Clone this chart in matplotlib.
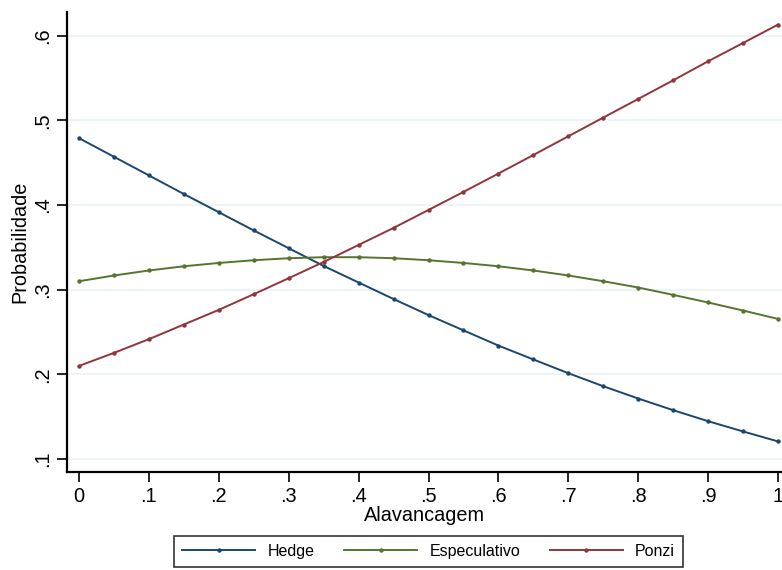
import matplotlib
matplotlib.use("Agg")
import matplotlib.pyplot as plt
import numpy as np

plt.rcParams['font.family'] = ['Liberation Sans', 'DejaVu Sans']

alavancagem = [0.00, 0.05, 0.10, 0.15, 0.20, 0.25, 0.30, 0.35, 0.40, 0.45, 0.50,
               0.55, 0.60, 0.65, 0.70, 0.75, 0.80, 0.85, 0.90, 0.95, 1.00]
hedge = [0.479, 0.457, 0.435, 0.413, 0.3915, 0.370, 0.349, 0.328, 0.3085, 0.289, 0.270,
         0.252, 0.234, 0.2176, 0.2014, 0.186, 0.1715, 0.1577, 0.1447, 0.1326, 0.1208]
especulativo = [0.310, 0.3168, 0.3227, 0.3277, 0.3316, 0.3348, 0.3372, 0.3384, 0.3384, 0.3372, 0.3348,
                0.3316, 0.3277, 0.3227, 0.3168, 0.310, 0.3026, 0.2939, 0.2849, 0.2754, 0.2655]
ponzi = [0.210, 0.2254, 0.2416, 0.2589, 0.2762, 0.2947, 0.3136, 0.3328, 0.3529, 0.373, 0.3942,
         0.4155, 0.4372, 0.4591, 0.4812, 0.5033, 0.5253, 0.5473, 0.5698, 0.5914, 0.6131]

x_ticks = [0, 0.1, 0.2, 0.3, 0.4, 0.5, 0.6, 0.7, 0.8, 0.9, 1.0]
x_ticklabels = ['0', '.1', '.2', '.3', '.4', '.5', '.6', '.7', '.8', '.9', '1']
y_ticks = [0.1, 0.2, 0.3, 0.4, 0.5, 0.6]
y_ticklabels = ['.1', '.2', '.3', '.4', '.5', '.6']

series_names = ['Hedge', 'Especulativo', 'Ponzi']
colors = ['#1a476f', '#55752f', '#90353b']

fig = plt.figure(figsize=(7.82, 5.70), dpi=100)
ax = fig.add_axes([67/782, 1 - 472/570, 1 - 67/782, (472 - 12)/570])

for ys, name, c in zip([hedge, especulativo, ponzi], series_names, colors):
    ax.plot(alavancagem, ys, color=c, lw=1.4, marker='o', markersize=3.2,
            markeredgewidth=0, label=name)

ax.set_xlim(-0.0172, 1.0057)
ax.set_ylim(0.0847, 0.628)
ax.set_xticks(x_ticks)
ax.set_xticklabels(x_ticklabels)
ax.set_yticks(y_ticks)
ax.set_yticklabels(y_ticklabels, rotation=90, va='center')
ax.tick_params(axis='both', labelsize=14.4, length=7.5, width=1.2, color='black')
ax.tick_params(axis='y', pad=3)
ax.tick_params(axis='x', pad=3)
ax.grid(axis='y', color='#eaf2f3', lw=1.2)
ax.set_axisbelow(True)
for s in ['top', 'right']:
    ax.spines[s].set_visible(False)
for s in ['left', 'bottom']:
    ax.spines[s].set_linewidth(1.6)
    ax.spines[s].set_color('black')

ax.set_xlabel('Alavancagem', fontsize=14.3, labelpad=0)
ax.set_ylabel('Probabilidade', fontsize=14.3, labelpad=3)

leg = fig.legend(loc='upper center', bbox_to_anchor=(428.5/782, 1 - 536/570),
                 borderaxespad=0, ncol=3, frameon=True, fancybox=False,
                 fontsize=11.5, handlelength=4.6, columnspacing=1.85,
                 handletextpad=0.75, borderpad=0.5, edgecolor='black')
leg.get_frame().set_linewidth(1.2)

fig.savefig('out.png', dpi=100, facecolor='white')
